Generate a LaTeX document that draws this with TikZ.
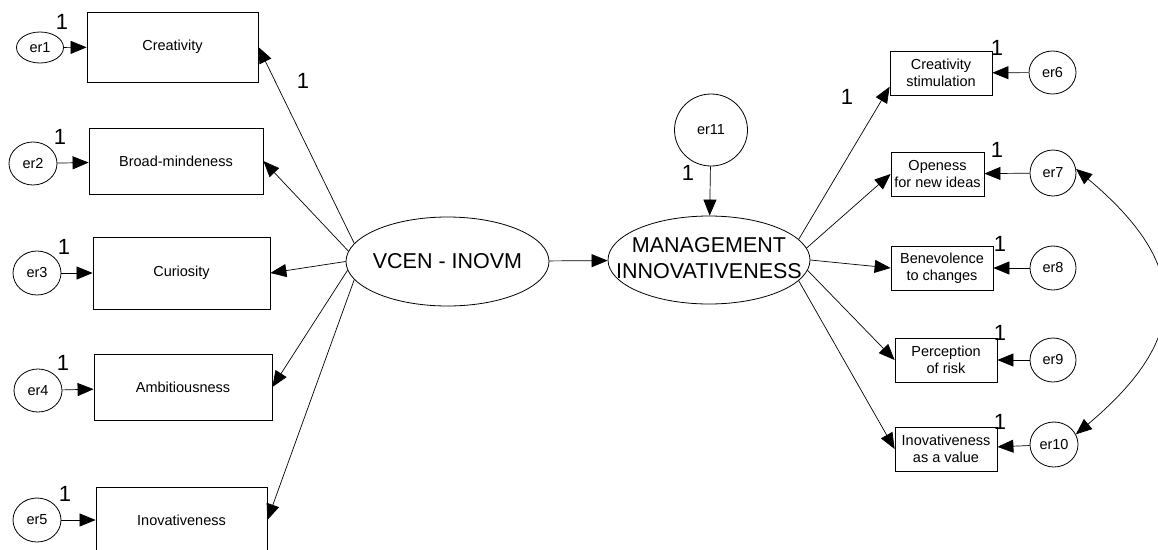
\documentclass[tikz,border=0pt]{standalone}
\usepackage{fontspec}
\setmainfont{Liberation Sans}
\usetikzlibrary{arrows.meta,shapes.geometric}

\begin{document}
\begin{tikzpicture}[x=1pt, y=-1pt, > = {Triangle[length=16pt,width=13pt]},
    obs/.style = {draw, line width=0.8pt, inner sep=0pt, align=center, font=\fontsize{14.5}{17}\selectfont},
    err/.style = {draw, ellipse, line width=0.8pt, inner sep=0pt, font=\fontsize{14.5}{17}\selectfont},
    lat/.style = {draw, ellipse, line width=0.8pt, inner sep=0pt, font=\fontsize{21.5}{26.5}\selectfont},
    reg/.style = {line width=0.7pt, ->},
    one/.style = {inner sep=0pt, font=\fontsize{22}{22}\selectfont}]

    \useasboundingbox (0,0) rectangle (1158,549);

    % latent variables
    \node[lat, minimum width=203, minimum height=89] (vc) at (447.5,261.5) {\makebox[0pt]{VCEN - INOVM}};
    \node[lat, minimum width=202, minimum height=88] (mi) at (709,260) {\makebox[0pt]{\begin{tabular}{@{}c@{}}MANAGEMENT\\INNOVATIVENESS\end{tabular}}};
    \node[err, minimum width=73, minimum height=72] (er11) at (711,130) {er11};

    % observed variables, left
    \node[obs, minimum width=171, minimum height=70] (cr) at (172.5,47) {Creativity};
    \node[obs, minimum width=174, minimum height=66] (bm) at (176,161) {Broad-mindeness};
    \node[obs, minimum width=177, minimum height=72] (cu) at (181.5,273) {Curiosity};
    \node[obs, minimum width=178, minimum height=66] (am) at (183,387) {Ambitiousness};
    \node[obs, minimum width=171, minimum height=66] (iv) at (181.5,520) {Inovativeness};

    % errors, left
    \node[err, minimum width=47, minimum height=31] (er1) at (40,47.5) {er1};
    \node[err, minimum width=48, minimum height=43] (er2) at (33,163.5) {er2};
    \node[err, minimum width=48, minimum height=44] (er3) at (37,273) {er3};
    \node[err, minimum width=48, minimum height=43] (er4) at (38,390.5) {er4};
    \node[err, minimum width=48, minimum height=44] (er5) at (37,520) {er5};

    % observed variables, right
    \node[obs, minimum width=102, minimum height=44] (cs) at (941,73) {Creativity\\stimulation};
    \node[obs, minimum width=93, minimum height=44] (op) at (937.5,174) {Openess\\for new ideas};
    \node[obs, minimum width=102, minimum height=44] (bc) at (942,268) {Benevolence\\to changes};
    \node[obs, minimum width=102, minimum height=44] (pr) at (946,360) {Perception\\of risk};
    \node[obs, minimum width=102, minimum height=44] (av) at (946,449) {Inovativeness\\as a value};

    % errors, right
    \node[err, minimum width=47, minimum height=43] (er6) at (1052.5,72.5) {er6};
    \node[err, minimum width=46, minimum height=46] (er7) at (1053,173) {er7};
    \node[err, minimum width=46, minimum height=44] (er8) at (1053,268) {er8};
    \node[err, minimum width=46, minimum height=44] (er9) at (1053,360) {er9};
    \node[err, minimum width=48, minimum height=45] (er10) at (1054,444.5) {er10};

    % paths
    \draw[reg] (vc) -- (mi);
    \draw[reg] (er11) -- (mi);
    \draw[reg] (vc.169) -- (cr.east);
    \draw[reg] (vc.174.6) -- (bm.east);
    \draw[reg] (vc.west) -- (cu.east);
    \draw[reg] (vc.185) -- (am.east);
    \draw[reg] (vc.191) -- (iv.east);
    \draw[reg] (mi.13) -- (cs.195);
    \draw[reg] (mi.7) -- (op.west);
    \draw[reg] (mi.east) -- (bc.west);
    \draw[reg] (mi.-6) -- (pr.west);
    \draw[reg] (mi.-13) -- (av.west);

    \draw[reg] (er1) -- (cr);
    \draw[reg] (er2) -- (bm);
    \draw[reg] (er3) -- (cu);
    \draw[reg] (er4) -- (am);
    \draw[reg] (er5) -- (iv);
    \draw[reg] (er6) -- (cs);
    \draw[reg] (er7) -- (op);
    \draw[reg] (er8) -- (bc);
    \draw[reg] (er9) -- (pr);
    \draw[reg] (er10) -- (av);

    % covariance
    \draw[reg, <->] (er7.10) to[out=-40, in=40, looseness=1.45] (er10.25);

    % fixed parameters
    \node[one] (f1) at (62,22) {1};
    \node[one] (f2) at (60,137) {1};
    \node[one] (f3) at (64,247) {1};
    \node[one] (f4) at (63,363) {1};
    \node[one] (f5) at (65,494) {1};
    \node[one] (fcr) at (303,81) {1};
    \node[one] (fcs) at (847,97) {1};
    \node[one] (f11) at (688,173) {1};
    \node[one] (f6) at (997,48) {1};
    \node[one] (f7) at (997,150) {1};
    \node[one] (f8) at (1000,244) {1};
    \node[one] (f9) at (1000,333) {1};
    \node[one] (f10) at (1000,422) {1};

\end{tikzpicture}
\end{document}
